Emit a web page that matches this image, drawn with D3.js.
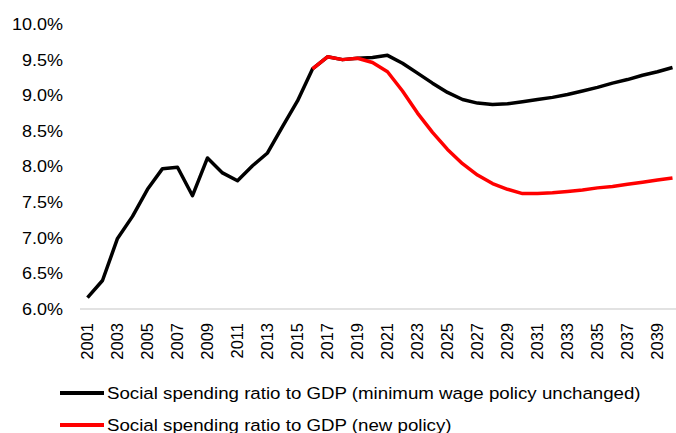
<!DOCTYPE html>
<html>
<head>
<meta charset="utf-8">
<script src="https://cdn.jsdelivr.net/npm/d3@7"></script>
<style>
  html, body { margin: 0; padding: 0; background: #fff; }
  svg { display: block; font-family: "Liberation Sans", Arial, sans-serif; }
</style>
</head>
<body>
<svg id="chart" width="676" height="433"></svg>
<script>
// Years on the category axis
const years = d3.range(2001, 2041);

// Social spending as a share of GDP (%), current minimum wage policy
const baseline = [
  6.16, 6.40, 6.99, 7.30, 7.68, 7.97, 7.99, 7.59, 8.12, 7.91,
  7.80, 8.01, 8.19, 8.56, 8.92, 9.37, 9.54, 9.50, 9.52, 9.53,
  9.56, 9.45, 9.31, 9.17, 9.04, 8.94, 8.89, 8.87, 8.88, 8.91,
  8.94, 8.97, 9.01, 9.06, 9.11, 9.17, 9.22, 9.28, 9.33, 9.39
];

// Same ratio under the new policy (starts in 2016)
const policyYears = d3.range(2016, 2041);
const newPolicy = [
  9.37, 9.54, 9.50, 9.52, 9.46, 9.33, 9.06, 8.75, 8.48, 8.24,
  8.04, 7.88, 7.76, 7.68, 7.62, 7.62, 7.63, 7.65, 7.67, 7.70,
  7.72, 7.75, 7.78, 7.81, 7.84
];

const yTicks = [6.0, 6.5, 7.0, 7.5, 8.0, 8.5, 9.0, 9.5, 10.0];
const xTickYears = years.filter(yr => yr % 2 === 1);

const legendLabels = [
  "Social spending ratio to GDP (minimum wage policy unchanged)",
  "Social spending ratio to GDP (new policy)"
];
const colors = ["#000000", "#ff0000"];

const svg = d3.select("#chart");
const plotLeft = 80, plotRight = 680, plotTop = 24, plotBottom = 309;

const x = d3.scaleBand().domain(years).range([plotLeft, plotRight]);
const y = d3.scaleLinear().domain([6, 10]).range([plotBottom, plotTop]);

// Y axis labels (no axis line, no ticks), slightly widened glyphs
const yAxis = d3.axisLeft(y).tickValues(yTicks).tickSize(0).tickPadding(0)
  .tickFormat(d => d.toFixed(1) + "%");
svg.append("g")
  .attr("transform", "translate(63,0)")
  .call(yAxis)
  .call(g => g.select(".domain").remove())
  .selectAll("text")
  .attr("font-size", 17)
  .attr("font-family", "Liberation Sans, Arial, sans-serif")
  .attr("fill", "#000")
  .attr("transform", "scale(1.06,1)");

// X axis: light baseline with rotated year labels
const xAxis = d3.axisBottom(x).tickValues(xTickYears).tickSize(0).tickPadding(0);
svg.append("g")
  .attr("transform", `translate(0,${plotBottom})`)
  .call(xAxis)
  .call(g => g.select(".domain").attr("stroke", "#d9d9d9").attr("stroke-width", 1.5)
    .attr("d", `M${plotLeft},0H676`))
  .selectAll("text")
  .attr("font-size", 16.5)
  .attr("font-family", "Liberation Sans, Arial, sans-serif")
  .attr("fill", "#000")
  .attr("text-anchor", "end")
  .attr("transform", "rotate(-90)")
  .attr("x", -14)
  .attr("y", 0)
  .attr("dy", "0.35em");

const cx = d => x(d) + x.bandwidth() / 2;

const line = d3.line().x(d => cx(d[0])).y(d => y(d[1]));

svg.append("path")
  .datum(years.map((yr, i) => [yr, baseline[i]]))
  .attr("d", line)
  .attr("fill", "none")
  .attr("stroke", colors[0])
  .attr("stroke-width", 3.5)
  .attr("stroke-linejoin", "round");

svg.append("path")
  .datum(policyYears.map((yr, i) => [yr, newPolicy[i]]))
  .attr("d", line)
  .attr("fill", "none")
  .attr("stroke", colors[1])
  .attr("stroke-width", 3.5)
  .attr("stroke-linejoin", "round");

// Legend
const legend = svg.append("g");
legendLabels.forEach((label, i) => {
  const ly = 393 + i * 32;
  legend.append("line")
    .attr("x1", 60).attr("x2", 104)
    .attr("y1", ly).attr("y2", ly)
    .attr("stroke", colors[i])
    .attr("stroke-width", 4);
  legend.append("text")
    .attr("transform", `translate(107,${ly + 6}) scale(1.1,1)`)
    .attr("font-size", 17)
    .attr("fill", "#000")
    .text(label);
});
</script>
</body>
</html>
